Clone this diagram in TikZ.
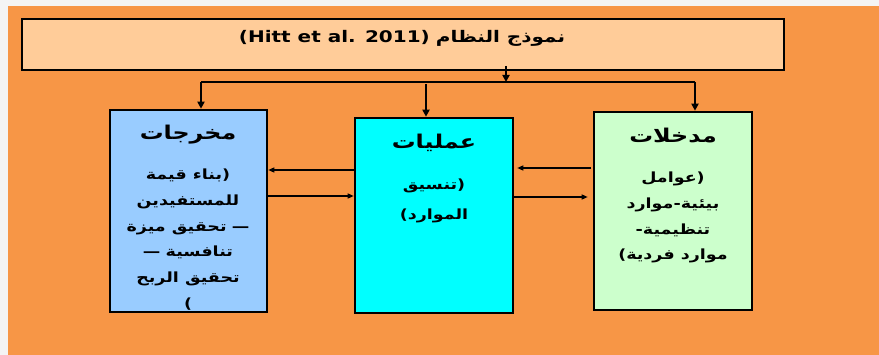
\documentclass[tikz,border=0pt]{standalone}
\usepackage{fontspec}
\usetikzlibrary{arrows.meta}
\TeXXeTstate=1
\newfontfamily\arabicfont[Script=Arabic, FakeStretch=1.25]{DejaVu Sans}
\newfontfamily\latinfont[FakeStretch=1.25]{DejaVu Sans}
\definecolor{bgorange}{HTML}{F79646}
\definecolor{pagegray}{HTML}{F4F4F4}
\definecolor{peach}{HTML}{FFCC99}
\definecolor{outblue}{HTML}{99CCFF}
\definecolor{proccyan}{HTML}{00FFFF}
\definecolor{ingreen}{HTML}{CCFFCC}
\newcommand{\RL}[1]{{\arabicfont\beginR #1\endR}}
\newcommand{\LT}[1]{{\latinfont\char"200E #1}}
\tikzset{
  box/.style={draw=black, line width=2.6pt, inner sep=0pt},
  ttl/.style={font=\bfseries\fontsize{19}{22}\selectfont, inner sep=0pt},
  body/.style={font=\bfseries\fontsize{14}{25.7}\selectfont, align=center, inner sep=0pt},
  tree/.style={line width=2pt, -{Triangle[length=7pt,width=7pt]}},
  side/.style={line width=1.3pt, -{Triangle[length=6pt,width=5pt]}}
}
\begin{document}
\begin{tikzpicture}[x=1pt,y=-1pt]
\useasboundingbox (0,0) rectangle (879,355);
\fill[pagegray] (0,0) rectangle (879,355);
\fill[bgorange] (8,6) rectangle (879,355);

% boxes
\node[box, fill=peach, minimum width=762pt, minimum height=51pt] (top) at (403,44.5) {};
\node[font=\bfseries\fontsize{16}{18}\selectfont, inner sep=0pt] (toptext) at (402,38) {\LT{(Hitt et al. 2011)} \RL{نموذج النظام}};

\node[box, fill=outblue, minimum width=157pt, minimum height=202pt] (out) at (188.5,211) {};
\node[box, fill=proccyan, minimum width=158pt, minimum height=195pt] (proc) at (434,215.5) {};
\node[box, fill=ingreen, minimum width=158pt, minimum height=198pt] (in) at (673,211) {};

% titles
\node[ttl] (outT) at (188,135) {\RL{مخرجات}};
\node[ttl] (procT) at (434,143) {\RL{عمليات}};
\node[ttl] (inT) at (673,136) {\RL{مدخلات}};

% bodies
\node[body, anchor=north] (outB) at (188,169) {%
\RL{بناء قيمة}\LT{)}\\
\RL{للمستفيدين}\\
\RL{تحقيق ميزة}\ \LT{—}\\
\LT{—}\ \RL{تنافسية}\\
\RL{تحقيق الربح}\\
\LT{(}};
\node[body, anchor=north] (procB) at (434,179) {%
\RL{تنسيق}\LT{)}\\[4.3pt]
\LT{(}\RL{الموارد}};
\node[body, anchor=north] (inB) at (673,172) {%
\RL{عوامل}\LT{)}\\
\RL{بيئية-موارد}\\
\LT{-}\RL{تنظيمية}\\
\LT{(}\RL{موارد فردية}};

% tree connectors
\coordinate (s0) at (506,66);
\coordinate (hub) at (506,82);
\coordinate (hl) at (201,82);
\coordinate (hr) at (695,82);
\coordinate (hm) at (426,84);
\draw[tree] (s0) -- (hub);
\draw[line width=2pt] (hl) -- (hr);
\draw[tree] (hl) -- (hl |- out.north);
\draw[tree] (hm) -- (hm |- proc.north);
\draw[tree] (hr) -- (hr |- in.north);

% side connectors
\coordinate (a1) at (354,170);
\coordinate (a2) at (268,196);
\coordinate (b1) at (591,168);
\coordinate (b2) at (514,197);
\draw[side] (a1) -- (out.east |- a1);
\draw[side] (a2) -- (proc.west |- a2);
\draw[side, shorten >=3pt] (b1) -- (proc.east |- b1);
\draw[side, shorten >=5pt] (b2) -- (in.west |- b2);
\end{tikzpicture}
\end{document}
